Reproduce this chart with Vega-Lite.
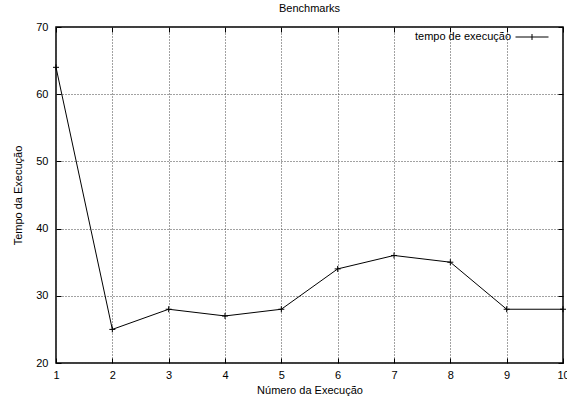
{
  "$schema": "https://vega.github.io/schema/vega-lite/v6.json",
  "autosize": {"type": "none"},
  "padding": {"left": 56, "top": 27, "right": 4, "bottom": 36},
  "width": 507,
  "height": 336,
  "title": {"text": "Benchmarks", "font": "Liberation Sans", "fontSize": 11, "fontWeight": "normal", "color": "#000", "offset": 6},
  "config": {
    "font": "Liberation Sans",
    "view": {"stroke": "#000", "strokeWidth": 1.5},
    "axis": {
      "labelFont": "Liberation Sans", "labelFontSize": 11, "labelColor": "#000", "labelFlush": false,
      "titleFont": "Liberation Sans", "titleFontSize": 11, "titleFontWeight": "normal", "titleColor": "#000",
      "domain": false, "tickColor": "#000", "tickSize": -5, "tickWidth": 1,
      "gridColor": "#444", "gridDash": [1, 2], "gridWidth": 1
    }
  },
  "data": {"values": [
    {"run": 1, "tempo": 64, "serie": "tempo de execução"},
    {"run": 2, "tempo": 25, "serie": "tempo de execução"},
    {"run": 3, "tempo": 28, "serie": "tempo de execução"},
    {"run": 4, "tempo": 27, "serie": "tempo de execução"},
    {"run": 5, "tempo": 28, "serie": "tempo de execução"},
    {"run": 6, "tempo": 34, "serie": "tempo de execução"},
    {"run": 7, "tempo": 36, "serie": "tempo de execução"},
    {"run": 8, "tempo": 35, "serie": "tempo de execução"},
    {"run": 9, "tempo": 28, "serie": "tempo de execução"},
    {"run": 10, "tempo": 28, "serie": "tempo de execução"}
  ]},
  "layer": [
    {
      "mark": {"type": "line", "color": "#000", "strokeWidth": 1},
      "encoding": {
        "x": {"field": "run", "type": "quantitative", "scale": {"domain": [1, 10], "nice": false, "zero": false},
              "axis": {"values": [1,2,3,4,5,6,7,8,9,10], "format": "d", "grid": true, "labelPadding": 11, "title": "Número da Execução", "titlePadding": 4}},
        "y": {"field": "tempo", "type": "quantitative", "scale": {"domain": [20, 70], "nice": false, "zero": false},
              "axis": {"values": [20,30,40,50,60,70], "grid": true, "labelPadding": 13, "title": "Tempo da Execução", "titlePadding": 12}}
      }
    },
    {
      "mark": {"type": "point", "filled": false, "strokeWidth": 1, "opacity": 1, "size": 36, "shape": "M-1,0H1M0,-1V1"},
      "encoding": {
        "x": {"field": "run", "type": "quantitative",
              "axis": {"orient": "top", "values": [1,2,3,4,5,6,7,8,9,10], "labels": false, "title": null, "grid": false}},
        "y": {"field": "tempo", "type": "quantitative",
              "axis": {"orient": "right", "values": [20,30,40,50,60,70], "labels": false, "title": null, "grid": false}},
        "color": {"field": "serie", "type": "nominal", "scale": {"range": ["#000"]},
                  "legend": {"title": null, "orient": "none", "legendX": 459, "legendY": -7,
                             "symbolType": "M-1,0H1M0,-0.18V0.18", "symbolSize": 1089, "symbolStrokeWidth": 1, "symbolStrokeColor": "#000",
                             "labelAlign": "right", "labelOffset": -38, "labelFont": "Liberation Sans", "labelFontSize": 11, "labelColor": "#000"}}
      }
    }
  ],
  "resolve": {"axis": {"x": "independent", "y": "independent"}}
}
